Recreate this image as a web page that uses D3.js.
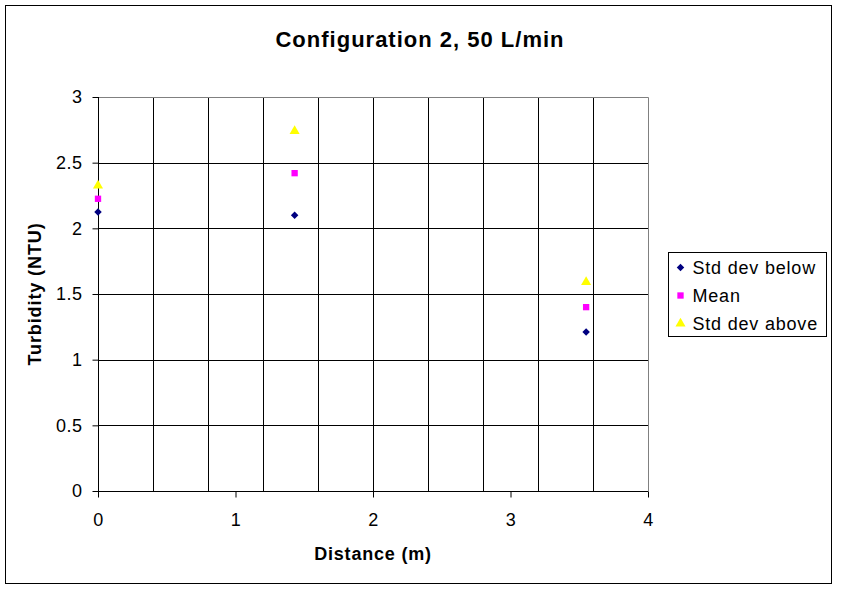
<!DOCTYPE html>
<html>
<head>
<meta charset="utf-8">
<script src="https://cdn.jsdelivr.net/npm/d3@7"></script>
<style>
  body { margin: 0; background: #fff; }
  svg { display: block; font-family: Arial, "Liberation Sans", sans-serif; }
</style>
</head>
<body>
<svg id="chart" width="843" height="589"></svg>
<script>
'use strict';

var title = 'Configuration 2, 50 L/min';
var xTitle = 'Distance (m)';
var yTitle = 'Turbidity (NTU)';

var distance = [0, 1.43, 3.55];
var stdBelow = [2.125, 2.10, 1.21];
var mean = [2.225, 2.42, 1.40];
var stdAbove = [2.325, 2.74, 1.59];

var xTicks = [0, 1, 2, 3, 4];
var xGrid = [0.4, 0.8, 1.2, 1.6, 2, 2.4, 2.8, 3.2, 3.6];
var yTicks = [0, 0.5, 1, 1.5, 2, 2.5, 3];

var seriesNames = ['Std dev below', 'Mean', 'Std dev above'];
var seriesValues = [stdBelow, mean, stdAbove];
var seriesColors = ['#000080', '#ff00ff', '#ffff00'];
var seriesShapes = [d3.symbolDiamond2 || d3.symbolDiamond, d3.symbolSquare, d3.symbolTriangle];
var seriesSizes = [36, 40, 44];

var svg = d3.select('#chart');

// chart frame
svg.append('rect')
  .attr('x', 5.5).attr('y', 5.5)
  .attr('width', 826).attr('height', 578)
  .attr('fill', '#fff').attr('stroke', '#000').attr('stroke-width', 1);

var plot = {left: 98, top: 97, right: 648, bottom: 491};

var x = d3.scaleLinear().domain([0, 4]).range([plot.left, plot.right]);
var y = d3.scaleLinear().domain([0, 3]).range([plot.bottom, plot.top]);

var g = svg.append('g').attr('transform', 'translate(0.5,0.5)');

// gridlines
g.selectAll('line.hgrid')
  .data(yTicks.filter(function(d) { return d > 0 && d < 3; }))
  .enter().append('line')
  .attr('class', 'hgrid')
  .attr('x1', plot.left).attr('x2', plot.right)
  .attr('y1', function(d) { return Math.round(y(d)); })
  .attr('y2', function(d) { return Math.round(y(d)); })
  .attr('stroke', '#000');

g.selectAll('line.vgrid')
  .data(xGrid)
  .enter().append('line')
  .attr('class', 'vgrid')
  .attr('y1', plot.top).attr('y2', plot.bottom)
  .attr('x1', function(d) { return Math.round(x(d)); })
  .attr('x2', function(d) { return Math.round(x(d)); })
  .attr('stroke', '#000');

// plot area border (top, right)
g.append('path')
  .attr('d', 'M' + plot.left + ',' + plot.top + 'H' + plot.right + 'V' + plot.bottom)
  .attr('fill', 'none').attr('stroke', '#808080');

// axes
var xAxis = d3.axisBottom(x).tickValues(xTicks).tickSize(6).tickPadding(16)
  .tickFormat(d3.format('d'));
var yAxis = d3.axisLeft(y).tickValues(yTicks).tickSize(6).tickPadding(10)
  .tickFormat(function(d) { return String(d); });

var xg = svg.append('g')
  .attr('transform', 'translate(0,' + (plot.bottom + 0.5) + ')')
  .call(xAxis);
var yg = svg.append('g')
  .attr('transform', 'translate(' + (plot.left + 0.5) + ',0)')
  .call(yAxis);

[xg, yg].forEach(function(a) {
  a.select('.domain').attr('stroke', '#000').attr('d',
    a === xg ? 'M' + plot.left + ',0H' + plot.right : 'M0,' + plot.top + 'V' + plot.bottom);
  a.selectAll('.tick line').attr('stroke', '#000');
  a.selectAll('.tick text').attr('font-size', 18).attr('fill', '#000')
    .attr('letter-spacing', 0.5)
    .attr('font-family', 'Arial, "Liberation Sans", sans-serif');
});
xg.selectAll('.tick text').attr('dy', '0.71em');

// titles
svg.append('text')
  .attr('x', 420).attr('y', 47)
  .attr('text-anchor', 'middle')
  .attr('font-size', 22).attr('font-weight', 'bold')
  .attr('letter-spacing', 1)
  .text(title);

svg.append('text')
  .attr('x', x(2)).attr('y', 560)
  .attr('text-anchor', 'middle')
  .attr('font-size', 18).attr('font-weight', 'bold')
  .attr('letter-spacing', 0.8)
  .text(xTitle);

svg.append('text')
  .attr('transform', 'translate(41,' + y(1.5) + ') rotate(-90)')
  .attr('text-anchor', 'middle')
  .attr('font-size', 18).attr('font-weight', 'bold')
  .attr('letter-spacing', 0.9)
  .text(yTitle);

// series markers
seriesValues.forEach(function(vals, i) {
  var sym = d3.symbol().type(seriesShapes[i]).size(seriesSizes[i]);
  svg.append('g').selectAll('path')
    .data(vals)
    .enter().append('path')
    .attr('d', sym)
    .attr('transform', function(d, j) {
      return 'translate(' + x(distance[j]) + ',' + y(d) + ')';
    })
    .attr('fill', seriesColors[i])
    .attr('stroke', 'none');
});

// legend
var legend = svg.append('g').attr('transform', 'translate(668.5,252.5)');
legend.append('rect')
  .attr('width', 158).attr('height', 84)
  .attr('fill', '#fff').attr('stroke', '#000');

var items = legend.selectAll('g.item')
  .data(seriesNames)
  .enter().append('g')
  .attr('class', 'item')
  .attr('transform', function(d, i) { return 'translate(0,' + (15 + i * 28) + ')'; });

items.append('path')
  .attr('transform', 'translate(12,0)')
  .attr('d', function(d, i) {
    return d3.symbol().type(seriesShapes[i]).size(seriesSizes[i])();
  })
  .attr('fill', function(d, i) { return seriesColors[i]; });

items.append('text')
  .attr('x', 24).attr('dy', '0.36em')
  .attr('font-size', 18)
  .attr('letter-spacing', 0.8)
  .text(function(d) { return d; });
</script>
</body>
</html>
